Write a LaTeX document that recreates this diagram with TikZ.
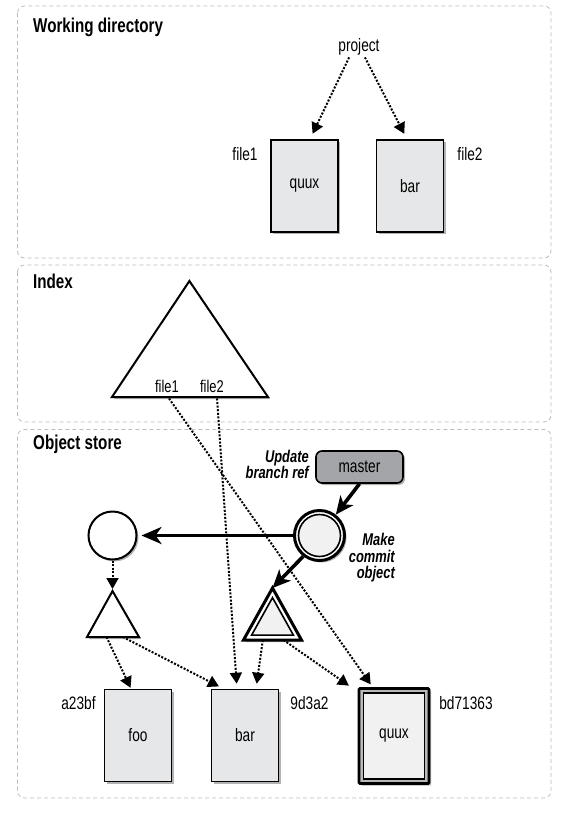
\documentclass[tikz,border=0pt]{standalone}
\usepackage{fontspec}
\setmainfont{Liberation Sans}[FakeStretch=0.76]
\usetikzlibrary{arrows.meta,shadows,calc}
\definecolor{boxfill}{HTML}{E6E7E8}
\definecolor{lightfill}{HTML}{F1F1F2}
\definecolor{masterfill}{HTML}{A3A5A8}
\definecolor{panelline}{HTML}{BBBBBB}
\begin{document}
\begin{tikzpicture}[x=1pt,y=-1pt,
  panel/.style={draw=panelline, line width=0.8pt, dash pattern=on 4pt off 3pt, rounded corners=7pt},
  title/.style={anchor=base west, font=\fontsize{20}{22}\selectfont\bfseries, inner sep=0pt},
  lab/.style={font=\fontsize{18}{20}\selectfont, inner sep=0pt},
  ilab/.style={font=\fontsize{17}{16.5}\selectfont\bfseries\itshape, inner sep=0pt},
  shadowed/.style={drop shadow={shadow xshift=2pt, shadow yshift=-2pt, opacity=0.3, fill=black}},
  filebox/.style={draw, line width=1.6pt, fill=boxfill, minimum width=67pt, minimum height=92pt, inner sep=0pt, font=\fontsize{18}{20}\selectfont, shadowed},
  dotarrow/.style={line width=2pt, dash pattern=on 2pt off 1.6pt, -{Triangle[length=11pt,width=12pt]}},
  thickarrow/.style={line width=3.6pt, -{Stealth[length=20pt,width=17pt,inset=6pt]}},
]
\useasboundingbox (0,0) rectangle (586,815);
% panels
\draw[panel] (17.5,6) rectangle (551,258);
\draw[panel] (17.5,265) rectangle (551,422);
\draw[panel] (17.5,429.5) rectangle (551,798);
\node[title] (t1) at (33,32) {Working directory};
\node[title] (t2) at (33,288) {Index};
\node[title] (t3) at (33,449) {Object store};

% working directory
\node[lab] (proj) at (359,47) {project};
\node[filebox] (wq) at (304.5,186) {quux};
\node[filebox] (wb) at (410,186) {bar};
\node[lab] (wf1) at (245,154) {file1};
\node[lab] (wf2) at (470,154) {file2};
\draw[dotarrow, shorten >=6pt, shorten <=2pt] ([xshift=-9pt]proj.south) -- ([xshift=5.5pt]wq.north);
\draw[dotarrow, shorten >=6pt, shorten <=2pt] ([xshift=5pt]proj.south) -- ([xshift=-3pt]wb.north);

% index
\coordinate (ia) at (189.4,281);
\coordinate (ib) at (112,397);
\coordinate (ic) at (268,397);
\path[draw, line width=2pt, fill=white, shadowed, line join=miter] (ia)--(ib)--(ic)--cycle;
\node[lab, font=\fontsize{17}{18}\selectfont] (if1) at (167,386) {file1};
\node[lab, font=\fontsize{17}{18}\selectfont] (if2) at (212,386) {file2};

% object store
\node[ilab, align=right, anchor=east] (upd) at (309,464.5) {Update\\branch ref};
\node[draw, line width=1.6pt, rounded corners=6pt, fill=masterfill, minimum width=87pt, minimum height=32pt, lab, shadowed] (ms) at (359.5,467) {master};
\node[circle, draw, line width=3pt, fill=white, minimum size=50pt, inner sep=0pt, shadowed] (dc) at (319.5,535.5) {};
\draw[line width=1.6pt, fill=lightfill] (dc.center) circle (21pt);
\node[circle, draw, line width=2pt, fill=white, minimum size=48pt, inner sep=0pt, shadowed] (pc) at (112.5,535.5) {};
\node[ilab, align=right, anchor=east] (mco) at (395,558) {Make\\commit\\object};

% plain tree triangle
\coordinate (pta) at (112.5,591);
\coordinate (ptb) at (87,637);
\coordinate (ptc) at (139,637);
\path[draw, line width=2pt, fill=white, shadowed, line join=miter] (pta)--(ptb)--(ptc)--cycle;
% new tree triangle (double)
\coordinate (dta) at (272.5,588);
\coordinate (dtb) at (243.5,640);
\coordinate (dtc) at (301.5,640);
\coordinate (dti) at (272.5,622.5);
\path[draw, line width=3pt, fill=white, shadowed, line join=miter] (dta)--(dtb)--(dtc)--cycle;
\path[draw, line width=1.6pt, fill=lightfill, line join=miter] ($(dti)!0.72!(dta)$)--($(dti)!0.72!(dtb)$)--($(dti)!0.72!(dtc)$)--cycle;

% blobs
\node[filebox] (ofoo) at (138,735.5) {foo};
\node[filebox] (obar) at (245,735.5) {bar};
\node[draw, line width=2.8pt, fill=gray!55, minimum width=70pt, minimum height=95pt, inner sep=0pt, outer sep=0pt, shadowed, rounded corners=1pt] (oquux) at (394,736) {};
\draw[line width=1.4pt, fill=lightfill] ([shift={(4.6pt,-4.6pt)}]oquux.north west) rectangle ([shift={(-4.6pt,4.6pt)}]oquux.south east);
\node[lab] (oqt) at (394,736) {quux};
\node[lab] (la) at (78.5,703) {a23bf};
\node[lab] (lb) at (309.5,703) {9d3a2};
\node[lab] (lc) at (466,703) {bd71363};

% arrows
\draw[thickarrow, -{Stealth[length=18pt,width=16pt,inset=5pt]}] (ms.south) -- (dc.52);
\draw[thickarrow, shorten >=4pt] (dc.west) -- (pc.east);
\draw[thickarrow, -{Stealth[length=18pt,width=16pt,inset=5pt]}] (dc.232) -- (dta);
\draw[dotarrow, shorten >=2pt] (pc.south) -- (pta);
\draw[dotarrow, shorten >=1pt] ($(ptb)!0.375!(ptc)$) -- ([xshift=-7pt]ofoo.north);
\draw[dotarrow, shorten >=5pt] ($(ptb)!0.69!(ptc)$) -- ([xshift=-21.6pt]obar.north);
\draw[dotarrow, shorten >=5pt] ([shift={(5pt,-6pt)}]if2.south) -- ([xshift=-8pt]obar.north);
\draw[dotarrow, shorten >=5pt] ($(dtb)!0.333!(dtc)$) -- ([xshift=11pt]obar.north);
\draw[dotarrow, shorten >=5pt] ($(dtb)!0.69!(dtc)$) -- ([xshift=-41pt]oquux.north);
\draw[dotarrow, shorten >=5pt] ([shift={(2pt,-6pt)}]if1.south) -- ([xshift=-20.4pt]oquux.north);
\end{tikzpicture}
\end{document}
